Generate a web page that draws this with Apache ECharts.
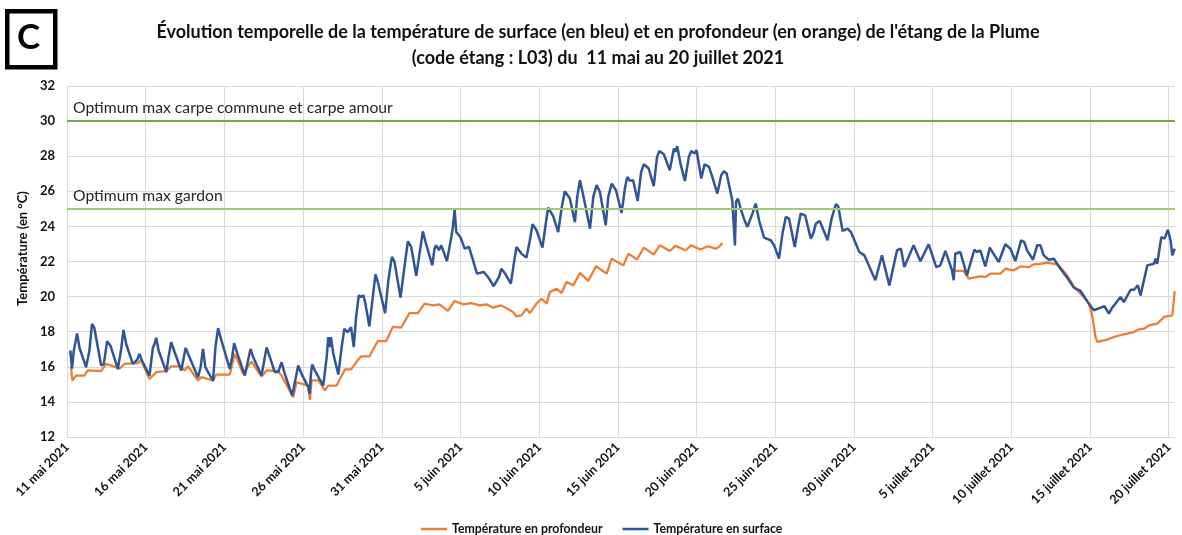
<!DOCTYPE html>
<html><head><meta charset="utf-8">
<script src="https://cdn.jsdelivr.net/npm/echarts@6/dist/echarts.min.js"></script>
<style>html,body{margin:0;padding:0;background:#fff}#c{width:1182px;height:535px}</style>
</head><body><div id="c"></div>
<script>
// x = days since 11 mai 2021 00:00, y = temperature in °C
const monthNames = ['janvier','février','mars','avril','mai','juin','juillet','août'];
const startDate = [2021, 4, 11];
const seriesNames = ['Température en profondeur', 'Température en surface'];
const thresholdValues = [30, 25];
const thresholdLabels = ['Optimum max carpe commune et carpe amour', 'Optimum max gardon'];
const yTicks = [12, 32, 2];

const surfaceReadings = [
[0.21,16.93],[0.32,15.9],[0.42,16.85],[0.64,17.9],[0.79,17.1],
[1.21,15.98],[1.42,16.9],[1.59,18.45],[1.74,18.2],
[2.17,16.07],[2.34,16.17],[2.55,17.46],[2.76,17.2],
[3.23,15.88],[3.44,17.0],[3.59,18.1],[3.76,17.3],
[4.18,16.17],[4.46,16.4],[4.61,16.74],[4.76,16.36],
[5.24,15.5],[5.46,17.1],[5.56,17.3],[5.67,17.65],[5.82,16.93],
[6.31,15.7],[6.45,16.55],[6.62,17.4],[6.84,16.83],
[7.26,15.79],[7.54,17.08],[7.69,16.74],
[8.32,15.4],[8.49,15.98],[8.64,17.02],[8.79,15.98],
[9.28,15.2],[9.43,17.1],[9.6,18.2],[9.81,17.5],
[10.34,15.88],[10.49,16.55],[10.62,17.35],[10.83,16.74],
[11.3,15.5],[11.66,17.02],[11.83,16.55],
[12.36,15.5],[12.68,17.1],[12.89,16.55],
[13.2,15.7],[13.42,15.7],[13.63,16.26],[13.84,15.6],
[14.31,14.36],[14.69,16.07],[14.9,15.6],
[15.33,14.84],[15.41,14.46],[15.5,15.6],[15.58,16.13],[15.75,15.79],
[16.28,14.93],[16.5,16.55],[16.6,17.69],[16.71,17.12],[16.77,17.69],[16.92,16.74],
[17.24,15.56],[17.45,17.12],[17.62,18.16],[17.83,17.97],[18.05,18.26],
[18.22,17.13],[18.37,18.84],[18.54,20.07],[18.68,19.98],[18.83,20.07],[18.96,19.6],
[19.21,18.3],[19.43,19.98],[19.6,21.27],[19.75,20.83],[19.85,20.83],
[20.21,19.06],[20.42,20.93],[20.64,22.26],[20.81,21.97],
[21.19,19.94],[21.44,21.69],[21.66,23.15],[21.87,22.83],
[22.19,21.19],[22.4,22.45],[22.61,23.72],[22.78,23.11],
[23.21,21.78],[23.35,22.73],[23.46,22.92],[23.63,22.64],[23.78,22.92],
[24.14,22.03],[24.42,23.4],[24.52,23.97],[24.63,24.96],[24.73,23.68],[24.99,23.4],
[25.27,22.73],[25.54,22.83],[25.8,22.07],
[26.05,21.31],[26.48,21.4],[26.75,21.12],
[27.11,20.59],[27.45,21.12],[27.6,21.59],[27.81,21.35],
[28.2,20.74],[28.39,21.88],[28.56,22.83],[28.87,22.45],
[29.19,22.22],[29.41,23.21],[29.58,24.12],[29.83,23.78],
[30.21,22.79],[30.42,24.16],[30.57,25.07],[30.89,24.58],
[31.21,23.68],[31.42,25.02],[31.63,26.0],[31.95,25.59],
[32.27,24.25],[32.42,25.68],[32.59,26.63],[32.8,25.78],
[33.23,23.87],[33.44,25.68],[33.65,26.35],[33.86,25.97],
[34.23,24.06],[34.39,25.68],[34.61,26.44],[34.88,26.06],
[35.24,24.77],[35.46,26.25],[35.6,26.82],[35.77,26.6],[35.97,26.63],
[36.26,25.45],[36.48,27.1],[36.65,27.54],[36.96,27.3],
[37.28,26.29],[37.49,27.96],[37.64,28.3],[37.92,28.11],
[38.3,27.2],[38.56,28.44],[38.66,28.25],[38.77,28.57],[38.98,27.58],
[39.26,26.59],[39.51,27.96],[39.66,28.3],[39.87,28.15],[40.0,28.34],
[40.3,26.73],[40.51,27.54],[40.79,27.39],[41.0,26.82],
[41.32,25.87],[41.57,26.92],[41.74,27.14],[41.91,27.01],
[42.27,25.49],[42.38,25.4],[42.44,22.92],[42.51,25.4],[42.63,25.59],[42.8,25.02],
[43.01,24.44],[43.23,23.97],[43.55,24.73],[43.76,25.3],[43.97,24.35],
[44.29,23.36],[44.71,23.21],[44.93,22.92],
[45.24,22.16],[45.46,23.59],[45.67,24.54],[45.88,24.44],
[46.24,22.83],[46.45,23.97],[46.62,24.73],[46.9,24.63],
[47.26,23.3],[47.43,23.63],[47.58,24.16],[47.83,24.31],
[48.07,23.78],[48.32,23.21],[48.58,24.44],[48.85,25.26],[49.0,25.15],
[49.28,23.74],[49.6,23.87],[49.81,23.68],
[50.34,22.54],[50.66,22.35],
[51.36,20.93],[51.78,22.35],
[52.25,20.64],[52.74,22.64],[52.99,22.73],
[53.2,21.68],[53.79,22.92],
[54.22,22.01],[54.75,22.98],
[55.23,21.68],[55.49,21.78],[55.81,22.6],
[56.23,21.5],[56.34,20.93],[56.44,22.44],[56.76,22.54],
[57.18,21.21],[57.65,22.67],[57.82,22.54],[58.03,22.63],
[58.35,21.72],[58.63,22.79],[58.84,22.48],
[59.2,21.97],[59.62,22.98],[59.94,22.73],
[60.26,22.03],[60.62,23.2],[60.83,23.11],[61.0,22.63],
[61.38,22.1],[61.64,22.92],[61.85,22.92],[62.06,22.35],
[62.38,22.1],[62.7,22.16],[63.12,21.59],[63.55,21.08],[63.97,20.51],
[64.4,20.32],[64.93,19.6],[65.24,19.22],[65.67,19.37],[65.92,19.45],
[66.2,19.03],[66.41,19.37],[66.62,19.6],[66.94,19.98],[67.15,19.69],
[67.58,20.39],[67.79,20.39],[68.04,20.64],[68.21,20.07],[68.64,21.78],
[69.06,21.87],[69.17,22.16],[69.27,21.87],[69.53,23.39],[69.74,23.3],[69.95,23.81],
[70.12,23.2],[70.23,22.35],[70.38,22.73]
];

const depthReadings = [
[0.25,16.02],[0.34,15.22],[0.57,15.5],[1.1,15.5],[1.32,15.79],[2.17,15.75],[2.48,16.17],
[3.12,15.98],[3.33,15.88],[3.65,16.17],[4.5,16.21],[4.71,16.36],[5.24,15.31],[5.67,15.69],
[6.31,15.75],[6.62,16.03],[7.15,16.03],[7.47,15.79],[7.69,16.03],[8.32,15.22],[8.54,15.41],
[9.28,15.22],[9.49,15.56],[10.34,15.56],[10.66,16.74],[11.19,15.6],[11.72,16.3],
[12.36,15.44],[12.68,15.79],[13.42,15.75],[13.63,15.5],[14.37,14.27],[14.59,15.12],
[15.33,14.93],[15.44,14.11],[15.54,15.22],[15.97,15.22],[16.39,14.65],[16.6,14.93],
[17.13,14.93],[17.66,15.85],[18.05,15.85],[18.47,16.37],[18.68,16.59],[19.21,16.59],
[19.75,17.47],[20.28,17.47],[20.7,18.27],[21.23,18.23],[21.76,19.06],[22.29,19.06],
[22.72,19.6],[23.25,19.5],[23.67,19.56],[24.2,19.18],[24.63,19.75],[25.16,19.56],
[25.69,19.63],[26.22,19.5],[26.65,19.56],[27.07,19.37],[27.6,19.5],[28.34,19.12],
[28.56,18.87],[28.87,18.93],[29.19,19.31],[29.41,19.06],[29.83,19.6],[30.15,19.88],
[30.47,19.6],[30.68,20.26],[31.1,20.45],[31.42,20.21],[31.74,20.83],[32.17,20.64],
[32.59,21.35],[33.12,20.89],[33.61,21.73],[34.29,21.31],[34.61,22.16],[35.35,21.78],
[35.67,22.45],[36.22,22.11],[36.65,22.79],[37.28,22.39],[37.66,22.92],[38.3,22.6],
[38.66,22.89],[39.3,22.64],[39.66,22.92],[40.25,22.68],[40.72,22.87],[41.21,22.73],
[41.42,22.83],[41.64,23.06],
[48.0,'-'],
[56.44,21.46],[56.97,21.46],[57.29,21.02],[57.61,21.08],[58.03,21.15],[58.35,21.12],
[58.67,21.31],[59.31,21.31],[59.62,21.59],[60.15,21.5],[60.58,21.72],[61.11,21.68],
[61.43,21.84],[61.85,21.87],[62.27,21.93],[62.91,21.84],[63.12,21.68],[63.55,21.21],
[63.97,20.58],[64.5,20.07],[64.93,19.6],[65.14,18.93],[65.35,17.7],[65.46,17.42],
[66.09,17.55],[66.52,17.7],[66.94,17.8],[67.36,17.89],[67.79,17.98],[68.04,18.12],
[68.43,18.17],[68.74,18.36],[69.27,18.46],[69.7,18.84],[70.23,18.93],[70.33,19.03],
[70.38,20.32]
];

const FONT = 'Lato, "Liberation Sans", sans-serif';

function dayLabel(v) {
  if (Math.abs(v - Math.round(v / 5) * 5) > 1e-6) return '';
  const d = new Date(Date.UTC(startDate[0], startDate[1], startDate[2]) + v * 86400000);
  return d.getUTCDate() + ' ' + monthNames[d.getUTCMonth()] + ' ' + d.getUTCFullYear();
}

const chart = echarts.init(document.getElementById('c'), null, {renderer: 'canvas'});
chart.setOption({
  animation: false,
  backgroundColor: '#fff',
  title: {
    text: "Évolution temporelle de la température de surface (en bleu) et en profondeur (en orange) de l'étang de la Plume\n(code étang : L03) du  11 mai au 20 juillet 2021",
    left: 593, top: 14, textAlign: 'center',
    textStyle: {fontFamily: FONT, fontWeight: 'bold', fontSize: 18, lineHeight: 26, color: '#111'}
  },
  graphic: [
    {type: 'rect', left: 5, top: 9, shape: {width: 48, height: 56}, style: {fill: '#fff', stroke: '#000', lineWidth: 4.5}},
    {type: 'text', left: 17, top: 20, style: {text: 'C', font: 'bold 35px ' + FONT, fill: '#000'}}
  ],
  legend: {
    left: 421, top: 523, padding: 0, itemWidth: 26, itemHeight: 2.5, itemGap: 20, icon: 'rect',
    textStyle: {fontFamily: FONT, fontWeight: 'bold', fontSize: 12.3, color: '#111'},
    data: seriesNames
  },
  grid: {left: 67, right: 7, top: 86, bottom: 98},
  xAxis: {
    type: 'value', min: 0, max: 70.4, interval: 5,
    axisLine: {show: true, lineStyle: {color: '#d9d9d9', width: 1}},
    axisTick: {show: false},
    splitLine: {show: true, showMaxLine: false, lineStyle: {color: '#d9d9d9', width: 1}},
    axisLabel: {rotate: 45, formatter: dayLabel, showMaxLabel: false, fontFamily: FONT, fontWeight: 'bold', fontSize: 12.5, color: '#111', margin: 8}
  },
  yAxis: {
    type: 'value', min: yTicks[0], max: yTicks[1], interval: yTicks[2],
    name: 'Température (en °C)', nameLocation: 'middle', nameGap: 32,
    nameTextStyle: {fontFamily: FONT, fontWeight: 'bold', fontSize: 13, color: '#111', padding: [0, 0, 0, 26]},
    axisLine: {show: true, lineStyle: {color: '#d9d9d9', width: 1}},
    axisTick: {show: false},
    splitLine: {show: true, lineStyle: {color: '#d9d9d9', width: 1}},
    axisLabel: {fontFamily: FONT, fontWeight: 'bold', fontSize: 13, color: '#111', margin: 12}
  },
  series: [
    {
      name: seriesNames[0], type: 'line', data: depthReadings, symbol: 'none', connectNulls: false,
      lineStyle: {color: '#ED7D31', width: 2.25}, itemStyle: {color: '#ED7D31'}, z: 3,
      markLine: {
        silent: true, symbol: 'none',
        data: [
          {yAxis: thresholdValues[0], lineStyle: {color: '#6FAC46', width: 2, type: 'solid'},
           label: {formatter: thresholdLabels[0]}},
          {yAxis: thresholdValues[1], lineStyle: {color: '#9DCC78', width: 2, type: 'solid'},
           label: {formatter: thresholdLabels[1]}}
        ],
        label: {show: true, position: 'insideStartTop', distance: [6, 5], fontFamily: FONT, fontSize: 15.7, color: '#262626'}
      }
    },
    {
      name: seriesNames[1], type: 'line', data: surfaceReadings, symbol: 'none',
      lineStyle: {color: '#2F5597', width: 2.5}, itemStyle: {color: '#2F5597'}, z: 4
    }
  ]
});
</script></body></html>
